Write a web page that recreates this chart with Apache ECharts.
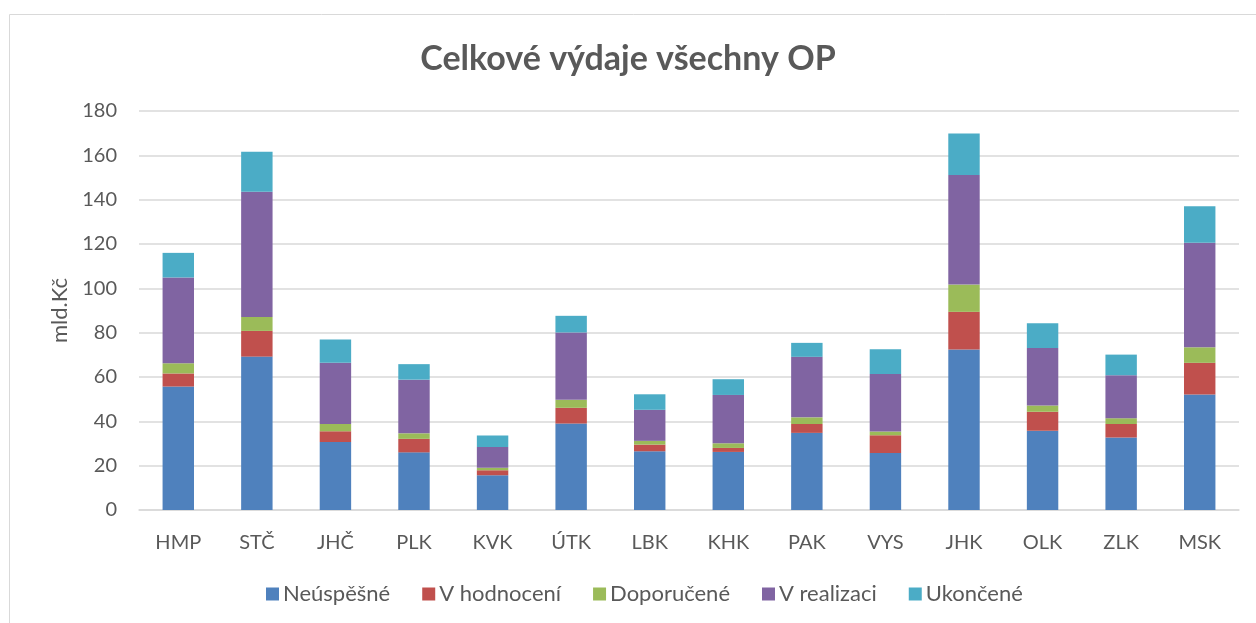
<!DOCTYPE html>
<html>
<head>
<meta charset="utf-8">
<script src="https://cdn.jsdelivr.net/npm/echarts@6/dist/echarts.min.js"></script>
<style>
html,body{margin:0;padding:0;background:#fff;}
#chart{width:1256px;height:623px;}
</style>
</head>
<body>
<div id="chart"></div>
<script>
const categories = ['HMP','STČ','JHČ','PLK','KVK','ÚTK','LBK','KHK','PAK','VYS','JHK','OLK','ZLK','MSK'];
const seriesNames = ['Neúspěšné','V hodnocení','Doporučené','V realizaci','Ukončené'];
const neuspesne  = [55.7, 69.2, 30.7, 26.0, 15.7, 39.0, 26.5, 26.2, 34.8, 25.7, 72.4, 35.8, 32.7, 52.1];
const vHodnoceni = [5.9, 11.6, 4.8, 6.1, 2.2, 7.1, 3.0, 1.8, 4.0, 8.0, 17.0, 8.5, 6.1, 14.3];
const doporucene = [4.6, 6.3, 3.3, 2.5, 1.2, 3.6, 1.7, 2.1, 3.0, 1.7, 12.3, 2.8, 2.6, 7.0];
const vRealizaci = [38.7, 56.5, 27.6, 24.2, 9.3, 30.4, 14.0, 21.8, 27.3, 26.0, 49.4, 26.0, 19.4, 47.2];
const ukoncene   = [11.1, 18.0, 10.5, 7.0, 5.2, 7.5, 7.0, 7.1, 6.3, 11.1, 18.7, 11.2, 9.3, 16.4];
const yTicks = [0, 20, 40, 60, 80, 100, 120, 140, 160, 180];

const colors = ['#4F81BD','#C0504D','#9BBB59','#8064A2','#4BACC6'];
const values = [neuspesne, vHodnoceni, doporucene, vRealizaci, ukoncene];
const font = 'Lato, "Open Sans", sans-serif';
const textColor = '#595959';

const chart = echarts.init(document.getElementById('chart'), null, {renderer:'canvas'});
chart.setOption({
  animation: false,
  color: colors,
  graphic: [{
    type: 'rect', left: 7, top: 12, silent: true,
    shape: {width: 1270, height: 700},
    style: {fill: 'none', stroke: '#d9d9d9', lineWidth: 1}
  }],
  title: {
    text: 'Celkové výdaje všechny OP',
    left: 'center', top: 37,
    textStyle: {fontFamily: font, fontSize: 34, fontWeight: 'bold', color: textColor}
  },
  legend: {
    bottom: 13, left: 261,
    itemWidth: 13, itemHeight: 13, itemGap: 32,
    icon: 'rect',
    textStyle: {fontFamily: font, fontSize: 22, color: textColor, padding: [0,0,0,-1]},
    data: seriesNames
  },
  grid: {left: 139, right: 17, top: 111, bottom: 113},
  xAxis: {
    type: 'category',
    data: categories,
    axisLine: {show: true, lineStyle: {color: '#d9d9d9', width: 1.5}},
    axisTick: {show: false},
    axisLabel: {fontFamily: font, fontSize: 20, color: textColor, margin: 23}
  },
  yAxis: {
    type: 'value',
    min: yTicks[0], max: yTicks[yTicks.length-1], interval: 20,
    name: 'mld.Kč',
    nameLocation: 'middle',
    nameGap: 68,
    nameRotate: 90,
    nameTextStyle: {fontFamily: font, fontSize: 22, color: textColor},
    axisLine: {show: false},
    axisTick: {show: false},
    splitLine: {lineStyle: {color: '#d9d9d9', width: 1.5}},
    axisLabel: {fontFamily: font, fontSize: 20, color: textColor, margin: 22}
  },
  series: seriesNames.map((n, i) => ({
    name: n,
    type: 'bar',
    stack: 'total',
    barWidth: '40%',
    data: values[i],
    itemStyle: {color: colors[i]}
  }))
});
</script>
</body>
</html>
